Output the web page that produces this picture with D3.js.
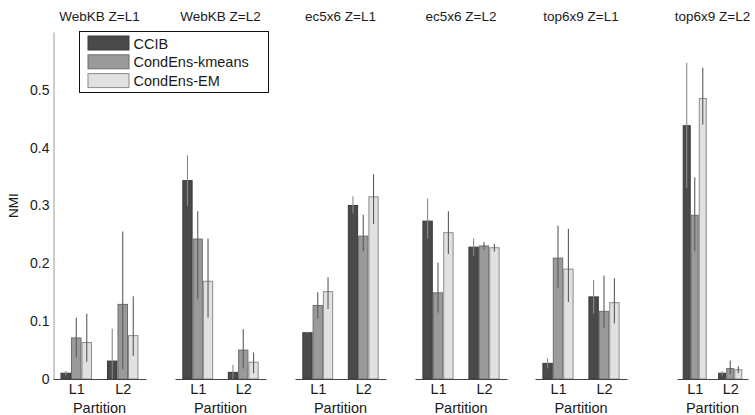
<!DOCTYPE html>
<html><head><meta charset="utf-8">
<script src="https://cdn.jsdelivr.net/npm/d3@7"></script>
<style>
body{margin:0;background:#fff;}
text{font-family:"Liberation Sans",Arial,Helvetica,sans-serif;fill:#1a1a1a;}
</style></head>
<body><svg id="c" width="755" height="415"></svg>
<script>
// ---- data ----
const panels = ["WebKB Z=L1","WebKB Z=L2","ec5x6 Z=L1","ec5x6 Z=L2","top6x9 Z=L1","top6x9 Z=L2"];
const partitions = ["L1","L2"];
const methods = ["CCIB","CondEns-kmeans","CondEns-EM"];
const yTicks = [0,0.1,0.2,0.3,0.4,0.5];
// mean NMI, per panel [L1, L2]
const ccib   = [[0.010,0.031],[0.343,0.0115],[0.080,0.300],[0.273,0.228],[0.027,0.142],[0.438,0.010]];
const kmeans = [[0.071,0.129],[0.242,0.050],[0.127,0.247],[0.149,0.230],[0.209,0.117],[0.283,0.018]];
const em     = [[0.063,0.075],[0.169,0.029],[0.151,0.315],[0.253,0.227],[0.190,0.132],[0.485,0.016]];
// error bar upper ends
const ccibHi   = [[0.014,0.087],[0.387,0.024],[0.082,0.316],[0.312,0.243],[0.036,0.171],[0.547,0.014]];
const kmeansHi = [[0.106,0.255],[0.290,0.086],[0.150,0.284],[0.201,0.237],[0.265,0.179],[0.349,0.032]];
const emHi     = [[0.113,0.143],[0.243,0.046],[0.176,0.354],[0.290,0.234],[0.260,0.174],[0.538,0.022]];
// error bar lower ends
const ccibLo   = [[0.006,0.000],[0.299,0.000],[0.078,0.286],[0.243,0.213],[0.018,0.113],[0.330,0.006]];
const kmeansLo = [[0.037,0.017],[0.138,0.018],[0.104,0.221],[0.115,0.223],[0.158,0.088],[0.221,0.008]];
const emLo     = [[0.030,0.040],[0.106,0.010],[0.121,0.268],[0.216,0.220],[0.133,0.096],[0.440,0.010]];

const means = [ccib, kmeans, em];
const his = [ccibHi, kmeansHi, emHi];
const los = [ccibLo, kmeansLo, emLo];

// ---- layout ----
const fills = ["#4a4a4a","#9a9a9a","#e1e1e1"];
const strokes = ["#3a3a3a","#6e6e6e","#8c8c8c"];
const panelX = [[53,146],[175,266],[295,386],[415,507],[535,627],[677,748]];
const svg = d3.select("#c");
const y = d3.scaleLinear().domain([0,0.6]).range([379,32]);
const barW = 0.226;

// y axis
const ya = svg.append("g").attr("transform","translate(53.5,0)")
  .call(d3.axisLeft(y).tickValues(yTicks).tickSize(0).tickPadding(4).tickFormat(d=>d===0?"0":d3.format(".1f")(d)));
ya.select(".domain").attr("stroke","#9a9a9a");
ya.selectAll("text").style("font-size","14px").attr("font-family",null);
svg.append("text").attr("transform","translate(18,"+y(0.3)+") rotate(-90)")
  .attr("text-anchor","middle").style("font-size","13.5px").text("NMI");

panels.forEach((name,p)=>{
  const x = d3.scaleLinear().domain([0.5,2.5]).range(panelX[p]);
  const unit = x(1)-x(0);
  const g = svg.append("g");
  // bars
  methods.forEach((m,mi)=>{
    partitions.forEach((pt,pi)=>{
      const c = x(pi+1) + (mi-1)*barW*unit;
      const v = means[mi][p][pi];
      g.append("rect").attr("x",c-barW*unit/2+0.5).attr("y",y(v))
        .attr("width",barW*unit-1).attr("height",y(0)-y(v))
        .attr("fill",fills[mi]).attr("stroke",strokes[mi]).attr("stroke-width",1);
    });
  });
  // error bars
  methods.forEach((m,mi)=>{
    partitions.forEach((pt,pi)=>{
      const c = x(pi+1) + (mi-1)*barW*unit;
      g.append("line").attr("x1",c).attr("x2",c)
        .attr("y1",y(his[mi][p][pi])).attr("y2",y(los[mi][p][pi]))
        .attr("stroke", mi===0?"#8a8a8a":"#5a5a5a").attr("stroke-width",1.1);
    });
  });
  // x axis
  const xa = svg.append("g").attr("transform","translate(0,379)")
    .call(d3.axisBottom(x).tickValues([1,2]).tickSize(0).tickPadding(5).tickFormat((d,i)=>partitions[i]));
  xa.select(".domain").attr("stroke","#444").attr("stroke-width",1.2);
  xa.selectAll("text").style("font-size","14.5px").attr("font-family",null);
  svg.append("text").attr("x",(panelX[p][0]+panelX[p][1])/2).attr("y",413)
    .attr("text-anchor","middle").style("font-size","14.5px").text("Partition");
  svg.append("text").attr("x",(panelX[p][0]+panelX[p][1])/2).attr("y",20.5)
    .attr("text-anchor","middle").style("font-size","13.5px").text(name);
});

// legend
const lg = svg.append("g");
lg.append("rect").attr("x",79.5).attr("y",31.5).attr("width",189).attr("height",61)
  .attr("fill","#fff").attr("stroke","#111").attr("stroke-width",1);
methods.forEach((m,i)=>{
  lg.append("rect").attr("x",88).attr("y",36+i*18.8).attr("width",41).attr("height",14)
    .attr("fill",fills[i]).attr("stroke",strokes[i]);
  lg.append("text").attr("x",133.5).attr("y",48.5+i*18.8).style("font-size","14.5px").text(m);
});
</script></body></html>
